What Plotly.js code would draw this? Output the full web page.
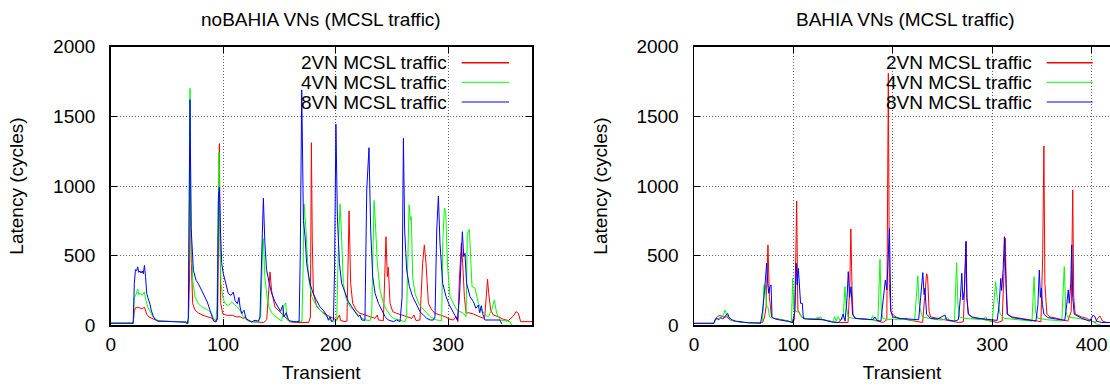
<!DOCTYPE html>
<html>
<head>
<meta charset="utf-8">
<script src="https://cdn.plot.ly/plotly-3.0.1.min.js"></script>
<style>html,body{margin:0;padding:0;background:#fff;}#chart{width:1110px;height:387px;}</style>
</head>
<body>
<div id="chart"></div>
<script>
// ---- data (transient, latency in cycles) ----
const seriesNames = ['2VN MCSL traffic', '4VN MCSL traffic', '8VN MCSL traffic'];
const seriesColors = ['#ff0000', '#00ff00', '#0000ff'];
const panelTitles = ['noBAHIA VNs (MCSL traffic)', 'BAHIA VNs (MCSL traffic)'];
const xTickVals = [0, 100, 200, 300, 400];
const yTickVals = [0, 500, 1000, 1500, 2000];

const noBahia2VN = [[0,15],[20,15],[21,100],[22,125],[24,130],[26,122],[28,118],[30,130],[31,110],[32,80],[34,60],[37,50],[40,35],[42,30],[50,28],[60,25],[67,25],[68,12],[69,15],[70,300],[70.7,1017],[71.7,443],[72.9,155],[75,108],[78,88],[82,72],[87,60],[91,48],[93,35],[95,40],[96.6,1304],[97.8,155],[99.6,84],[103,72],[108,72],[112,60],[115,62],[118,48],[119.5,62],[122.4,31],[127,25],[132,25],[136,20],[138.7,40],[141.6,383],[143,250],[146,131],[150.5,96],[153,75],[156.4,48],[159,25],[165,20],[170,20],[176,20],[177.5,60],[178.4,1311],[179.2,600],[180.2,230],[183.1,134],[187.6,98],[192,74],[196.4,57],[200.9,38],[203.3,74],[204.4,34],[208.3,26],[210,30],[211.9,821],[213.3,301],[215.1,158],[218.1,110],[221.6,86],[226.1,74],[230.5,62],[235,50],[237,74],[238,38],[242.4,34],[243.9,445],[244.7,636],[245.9,349],[246.8,416],[248.3,158],[250.7,98],[254.2,86],[258.7,74],[263.1,62],[267.6,50],[269.6,74],[271.4,34],[274.9,38],[277.3,445],[278.8,577],[280.3,445],[282.4,158],[285.3,110],[288.3,86],[292.7,74],[297.2,62],[301.6,43],[304.6,38],[307,62],[308.7,26],[309.9,325],[311.7,589],[312.9,445],[314.4,206],[315.9,86],[318,91],[322.4,81],[326.8,67],[331.3,50],[332.5,60],[334.2,301],[335,330],[336,230],[337.8,110],[340.1,74],[344.6,62],[349,43],[353.5,34],[358,67],[360.3,98],[362.4,86],[364.4,26],[374.5,26]];

const noBahia4VN = [[0,15],[20,15],[21,200],[22,210],[24,260],[25,220],[26,230],[28,215],[30,240],[31,190],[33,130],[35,100],[37,70],[40,40],[45,30],[55,28],[67,25],[68,12],[69,20],[70.5,1700],[71.4,682],[72.9,323],[75,203],[77.9,155],[80.9,132],[83.9,120],[86.8,108],[89.8,84],[91.9,31],[93.5,25],[94.5,150],[95.5,700],[96.2,1244],[97,700],[98,300],[99.6,203],[101.6,155],[104.6,143],[107.6,167],[110,150],[112.6,132],[115,108],[118,60],[120.9,36],[125.3,24],[131.3,24],[133.3,60],[135.1,586],[135.7,622],[137,350],[139,200],[141,120],[144,80],[147,60],[150,40],[152,30],[154,140],[155.6,160],[156.5,60],[158,30],[165,25],[170,30],[171,400],[171.9,871],[173.6,684],[175.7,349],[178.7,206],[181.6,158],[186.1,110],[190.5,74],[195,38],[197.9,26],[200.9,36],[202.5,600],[203.9,871],[205,684],[206.8,301],[209.2,194],[212.7,134],[217.2,98],[221.6,62],[226.1,38],[230.5,34],[232,80],[233.2,600],[234.1,895],[235.3,732],[237,445],[239.4,254],[242.4,158],[245.3,110],[248.3,74],[251.3,50],[257.2,34],[261.6,26],[263,60],[264.3,600],[265.2,864],[266.4,756],[267.2,780],[268.4,349],[270.5,230],[274.4,146],[279.4,98],[283.9,62],[289.8,38],[294.2,34],[295.2,600],[296.6,840],[297.8,816],[299.3,445],[301.6,206],[304.6,158],[307.6,110],[310.5,98],[313.5,86],[315.9,62],[317,660],[318.8,689],[320,493],[321.2,278],[323.9,266],[326.8,158],[329.8,110],[332.7,74],[335.7,62],[338.7,110],[341,182],[343.1,86],[346.1,38],[350.5,34],[355,26],[356.4,2]];

const noBahia8VN = [[0,15],[20,15],[21,300],[22,400],[23,390],[24,420],[25,380],[26,390],[27,375],[28,390],[29,370],[30,430],[31,350],[32,230],[33,200],[34,180],[35,150],[36,110],[37,80],[38,60],[40,40],[42,30],[50,28],[60,25],[67,22],[68,12],[69,50],[70.5,1620],[71.5,700],[73.5,395],[75.9,323],[77.9,299],[79.4,275],[81.8,239],[83.9,203],[85.9,167],[88.3,108],[89.8,60],[91.3,31],[93.6,24],[94.8,60],[95.7,921],[96.6,993],[97.5,700],[98.7,443],[100.1,371],[102.5,299],[104.6,227],[107,215],[109,239],[110.5,179],[112.6,155],[114,200],[115,132],[116.4,84],[118.5,108],[120.3,48],[122.4,36],[125.3,24],[128.3,36],[131.3,30],[132.7,60],[134.2,443],[135.7,912],[137,600],[138.5,400],[141,300],[143,230],[146,170],[149,130],[151,100],[152.9,143],[154,60],[156,90],[158,40],[160,30],[165,25],[167.5,30],[168.5,500],[169.8,1690],[171.3,753],[172.8,634],[174.2,443],[177.2,299],[180,227],[183,179],[186,132],[189,108],[192,72],[193.5,36],[195,60],[196.5,26],[198,36],[199,400],[200.2,1443],[201.5,780],[203.3,445],[205.3,301],[208.3,230],[211.3,170],[214.2,134],[217.2,98],[220.2,62],[221.6,74],[223.1,38],[226,36],[227.6,971],[229.6,1275],[231.1,684],[232.9,349],[235,230],[238,158],[240.9,110],[243.9,62],[246.8,38],[251.3,26],[254.2,38],[257.2,26],[259,200],[260.2,1342],[261.3,684],[263.1,397],[265.5,278],[268.4,206],[271.4,158],[274.9,98],[277.9,74],[280.9,50],[283.9,38],[286.9,38],[288.3,62],[289.8,684],[291.3,928],[292.7,589],[295.1,301],[298.1,206],[301,146],[304,98],[306.1,62],[308.2,38],[310,200],[312.6,672],[313.8,493],[314.9,517],[316.4,301],[319.4,206],[322.4,170],[324.7,122],[326.8,146],[328,90],[329.5,140],[330.5,86],[332.7,38],[340,38],[346,38],[347.6,10]];

const bahia2VN = [[0,14],[20,14],[22,50],[24,65],[26,70],[28,65],[30,60],[33,60],[36,40],[40,30],[45,25],[50,20],[60,18],[67,16],[69,20],[71,60],[72.5,130],[74.4,577],[75.8,206],[78,62],[80,50],[85,45],[90,40],[95,30],[99,20],[101,40],[102.4,500],[103.3,893],[104,400],[104.5,110],[107,74],[110,50],[120,45],[125,48],[130,40],[135,30],[140,25],[145,20],[150,18],[155,20],[156.8,300],[157.8,692],[159,250],[160,70],[163,50],[170,45],[180,40],[185,30],[190,20],[194,40],[195.5,1809],[196.5,300],[198,100],[200.5,74],[203.9,57],[207,50],[215,40],[220,35],[225,25],[230,20],[232,200],[234,370],[235,349],[236.5,100],[238,60],[245,50],[255,40],[262,30],[266,20],[271,25],[272.5,300],[273.8,604],[274.5,200],[276,80],[280,60],[290,45],[300,30],[305,20],[310,30],[312,400],[313.2,625],[314,300],[315.5,80],[320,60],[330,50],[340,40],[346,30],[349,25],[350.8,500],[352,1287],[353,300],[355,80],[358,60],[365,50],[372,35],[376,30],[379.5,100],[381,972],[382,200],[383.5,80],[390,60],[395,50],[400,30],[404,20],[406,50],[408.4,67],[411,30],[415,20],[419,20]];

const bahia4VN = [[0,14],[20,14],[22,40],[24,50],[26,55],[28,60],[30,80],[31,110],[32,90],[34,60],[37,40],[40,30],[45,25],[50,20],[60,18],[67,16],[69,30],[70.4,290],[71.8,290],[73.1,134],[74.5,130],[76,60],[80,50],[85,45],[90,38],[95,30],[98,25],[99.3,337],[100.5,110],[103,100],[106,90],[108,60],[112,50],[120,45],[127.5,60],[129,40],[135,30],[140,25],[141.5,62],[143,30],[145,62],[147,35],[150,50],[151.9,278],[153,150],[155,60],[160,50],[170,45],[178,40],[179.7,70],[181,35],[185,30],[187.1,474],[188.5,100],[190,50],[195,40],[200,45],[205,40],[210,42],[214,50],[216,38],[222,35],[225.2,355],[226.5,150],[228,100],[230,60],[235,50],[240,45],[245,40],[250,38],[255,55],[257,35],[262,30],[264.2,449],[265.5,150],[267,60],[272,50],[280,45],[290,40],[293.7,62],[295,35],[300,30],[303.5,313],[305,200],[306.5,140],[308,80],[312,50],[320,45],[330,40],[335,35],[340,30],[342.1,349],[343.5,100],[346,50],[355,40],[365,35],[370,30],[372.5,421],[374,100],[376,60],[385,50],[395,40],[402,25],[405,10],[410,0]];

const bahia8VN = [[0,14],[20,14],[21,40],[23,50],[25,40],[27,55],[29,45],[31,60],[33.9,86],[35,60],[38,40],[42,30],[48,22],[55,18],[67,15],[69.1,110],[71,250],[73.1,445],[74.2,300],[75.2,230],[76.5,278],[77.5,290],[78.5,62],[80,50],[85,40],[90,35],[95,28],[99,20],[101.5,100],[102.8,445],[103.8,290],[105,409],[106.2,278],[107.2,158],[109,158],[110,50],[112,45],[120,42],[130,40],[135,30],[140,22],[145,20],[148,40],[150,80],[152,30],[154,200],[155.2,385],[156.5,200],[158,277],[159.5,80],[162,50],[170,45],[180,40],[182,60],[184,35],[188,30],[191,200],[192.5,325],[194,254],[196.6,696],[198,100],[200,60],[206,50],[215,45],[222,40],[226,40],[228,200],[230.2,378],[231.5,220],[232.3,266],[234,80],[238,50],[245,45],[252.5,74],[254,40],[262,30],[266,40],[268,200],[269.4,373],[270.5,182],[272,250],[273.6,600],[274.5,200],[276,80],[280,55],[290,45],[300,40],[305,35],[307,150],[308.6,337],[309.5,250],[311,400],[312.3,636],[313.5,300],[315,80],[320,55],[330,45],[340,35],[344,30],[346,150],[347.4,397],[348.5,200],[349.5,266],[350.5,150],[352,80],[356,55],[365,45],[373,35],[375,150],[376.5,254],[377.5,158],[379,300],[380,577],[381,200],[382.5,80],[390,50],[398,30],[401.7,74],[403.5,60],[405,30],[410,20],[419,20]];

// ---- build traces ----
const FONT = 'Liberation Sans, Arial, Helvetica, sans-serif';
const panels = [
  {series: [noBahia2VN, noBahia4VN, noBahia8VN], xa: 'x', ya: 'y'},
  {series: [bahia2VN, bahia4VN, bahia8VN], xa: 'x2', ya: 'y2'}
];
const traces = [];
panels.forEach(p => {
  p.series.forEach((s, i) => {
    traces.push({
      type: 'scatter', mode: 'lines',
      x: s.map(d => d[0]), y: s.map(d => d[1]),
      name: seriesNames[i], xaxis: p.xa, yaxis: p.ya,
      line: {color: seriesColors[i], width: 1},
      showlegend: false, hoverinfo: 'skip'
    });
  });
});

const W = 1110, H = 387;
const px = v => v / W, py = v => 1 - v / H;
const yDom = [py(325.3), py(46.7)];

function xAxis(dom, rng, anchor) {
  return {
    domain: dom, range: rng, anchor: anchor,
    tickvals: xTickVals, ticks: 'inside', ticklen: 6, tickwidth: 1, tickcolor: '#000',
    showline: true, linecolor: '#000', linewidth: 1.5, mirror: 'ticks',
    showgrid: true, gridcolor: '#666', griddash: '1px,2px', gridwidth: 1,
    zeroline: false, ticklabelstandoff: 1,
    tickfont: {family: FONT, size: 19, color: '#000'},
    title: {text: 'Transient', font: {family: FONT, size: 19, color: '#000'}, standoff: 12},
    fixedrange: true
  };
}
function yAxis(anchor, mirror) {
  return {
    domain: yDom, range: [0, 2000], anchor: anchor,
    tickvals: yTickVals, ticks: 'inside', ticklen: 6, tickwidth: 1, tickcolor: '#000',
    showline: true, linecolor: '#000', linewidth: 1.5, mirror: mirror,
    showgrid: true, gridcolor: '#666', griddash: '1px,2px', gridwidth: 1,
    zeroline: false, ticklabelstandoff: 10,
    tickfont: {family: FONT, size: 19, color: '#000'},
    title: {text: 'Latency (cycles)', font: {family: FONT, size: 19, color: '#000'}, standoff: 24},
    fixedrange: true
  };
}

// legend entries drawn gnuplot-style (text left, line sample right)
const legendRowsY = [62.7, 82.3, 102];
const legendSpec = [
  {textRight: 449.3, lineX0: 461.7, lineX1: 509},
  {textRight: 1034, lineX0: 1046.7, lineX1: 1092.7}
];
const annotations = [
  {text: panelTitles[0], x: px(321), y: py(19), xref: 'paper', yref: 'paper', xanchor: 'center', yanchor: 'middle', showarrow: false, font: {family: FONT, size: 19, color: '#000'}},
  {text: panelTitles[1], x: px(905), y: py(19), xref: 'paper', yref: 'paper', xanchor: 'center', yanchor: 'middle', showarrow: false, font: {family: FONT, size: 19, color: '#000'}}
];
const shapes = [];
legendSpec.forEach(L => {
  seriesNames.forEach((n, i) => {
    annotations.push({text: n, x: px(L.textRight), y: py(legendRowsY[i]), xref: 'paper', yref: 'paper',
      xanchor: 'right', yanchor: 'middle', showarrow: false,
      font: {family: FONT, size: 19, color: '#000'}});
    shapes.push({type: 'line', xref: 'paper', yref: 'paper',
      x0: px(L.lineX0), x1: px(L.lineX1), y0: py(legendRowsY[i]), y1: py(legendRowsY[i]),
      line: {color: seriesColors[i], width: i === 0 ? 1.5 : 1}});
  });
});

const layout = {
  width: W, height: H,
  margin: {l: 0, r: 0, t: 0, b: 0, pad: 0},
  paper_bgcolor: '#fff', plot_bgcolor: '#fff',
  font: {family: FONT, size: 19, color: '#000'},
  showlegend: false,
  xaxis: xAxis([px(110.7), px(532)], [0, 374.5], 'y'),
  yaxis: yAxis('x', 'ticks'),
  xaxis2: xAxis([px(694), 1], [0, 418.5], 'y2'),
  yaxis2: yAxis('x2', false),
  annotations: annotations,
  shapes: shapes
};

Plotly.newPlot('chart', traces, layout, {staticPlot: true, displayModeBar: false});
</script>
</body>
</html>
